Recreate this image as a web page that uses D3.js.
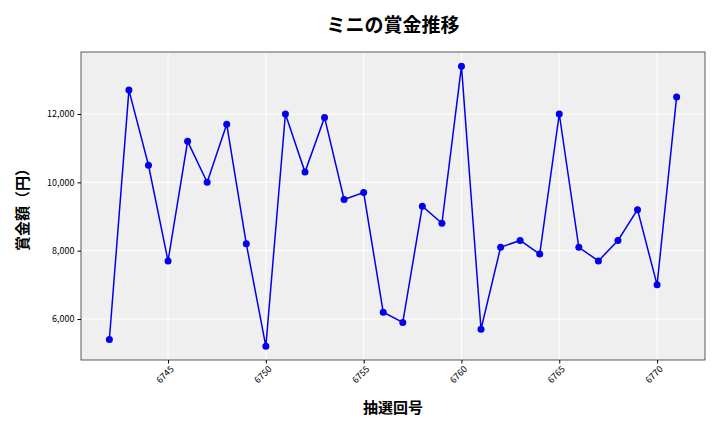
<!DOCTYPE html>
<html><head><meta charset="utf-8">
<script src="https://cdn.jsdelivr.net/npm/d3@7"></script>
<style>body{margin:0;background:#fff}text{font-family:"Noto Sans CJK JP","Noto Sans",sans-serif}</style>
</head><body><svg id="c" width="720" height="432"></svg>
<script>
const draws = d3.range(6742, 6772);
const prizes = [5400,12700,10500,7700,11200,10000,11700,8200,5200,12000,10300,11900,9500,9700,6200,5900,9300,8800,13400,5700,8100,8300,7900,12000,8100,7700,8300,9200,7000,12500];
const xTicks = [6745,6750,6755,6760,6765,6770];
const yTicks = [6000,8000,10000,12000];
const title = "ミニの賞金推移", xLabel = "抽選回号", yLabel = "賞金額（円）";

const svg = d3.select("#c");
const L=81,R=705,T=52,B=360;
const x = d3.scaleLinear().domain([6740.55,6772.45]).range([L,R]);
const y = d3.scaleLinear().domain([4800,13815]).range([B,T]);
svg.append("rect").attr("x",L).attr("y",T).attr("width",R-L).attr("height",B-T).attr("fill","#efefef");
const g = svg.append("g");
xTicks.forEach(t=>g.append("line").attr("x1",x(t)).attr("x2",x(t)).attr("y1",T).attr("y2",B).attr("stroke","#fff").attr("stroke-width",1));
yTicks.forEach(t=>g.append("line").attr("x1",L).attr("x2",R).attr("y1",y(t)).attr("y2",y(t)).attr("stroke","#fff").attr("stroke-width",1));
svg.append("rect").attr("x",L).attr("y",T).attr("width",R-L).attr("height",B-T).attr("fill","none").attr("stroke","#333").attr("stroke-width",0.8);
const xa = svg.append("g").attr("transform",`translate(0,${B})`).call(d3.axisBottom(x).tickValues(xTicks).tickFormat(d3.format("d")).tickSize(3.5));
xa.select(".domain").remove();
xa.selectAll("text").attr("transform","rotate(-45)").attr("text-anchor","end").attr("dx","-0.3em").attr("dy","0.5em").style("font-size","9px");
const ya = svg.append("g").attr("transform",`translate(${L},0)`).call(d3.axisLeft(y).tickValues(yTicks).tickFormat(d3.format(",")).tickSize(3.5));
ya.select(".domain").remove();
ya.selectAll("text").style("font-size","9px");
const data = draws.map((d,i)=>[d,prizes[i]]);
svg.append("path").datum(data).attr("d",d3.line().x(d=>x(d[0])).y(d=>y(d[1]))).attr("fill","none").attr("stroke","#0000ee").attr("stroke-width",1.5);
svg.selectAll("circle").data(data).join("circle").attr("cx",d=>x(d[0])).attr("cy",d=>y(d[1])).attr("r",3.5).attr("fill","#0000ee");
svg.append("text").attr("x",393).attr("y",32).attr("text-anchor","middle").style("font-size","19px").style("font-weight","bold").text(title);
svg.append("text").attr("x",393).attr("y",413).attr("text-anchor","middle").style("font-size","15px").style("font-weight","bold").text(xLabel);
svg.append("text").attr("transform","translate(28,206) rotate(-90)").attr("text-anchor","middle").style("font-size","15px").style("font-weight","bold").text(yLabel);
</script></body></html>
